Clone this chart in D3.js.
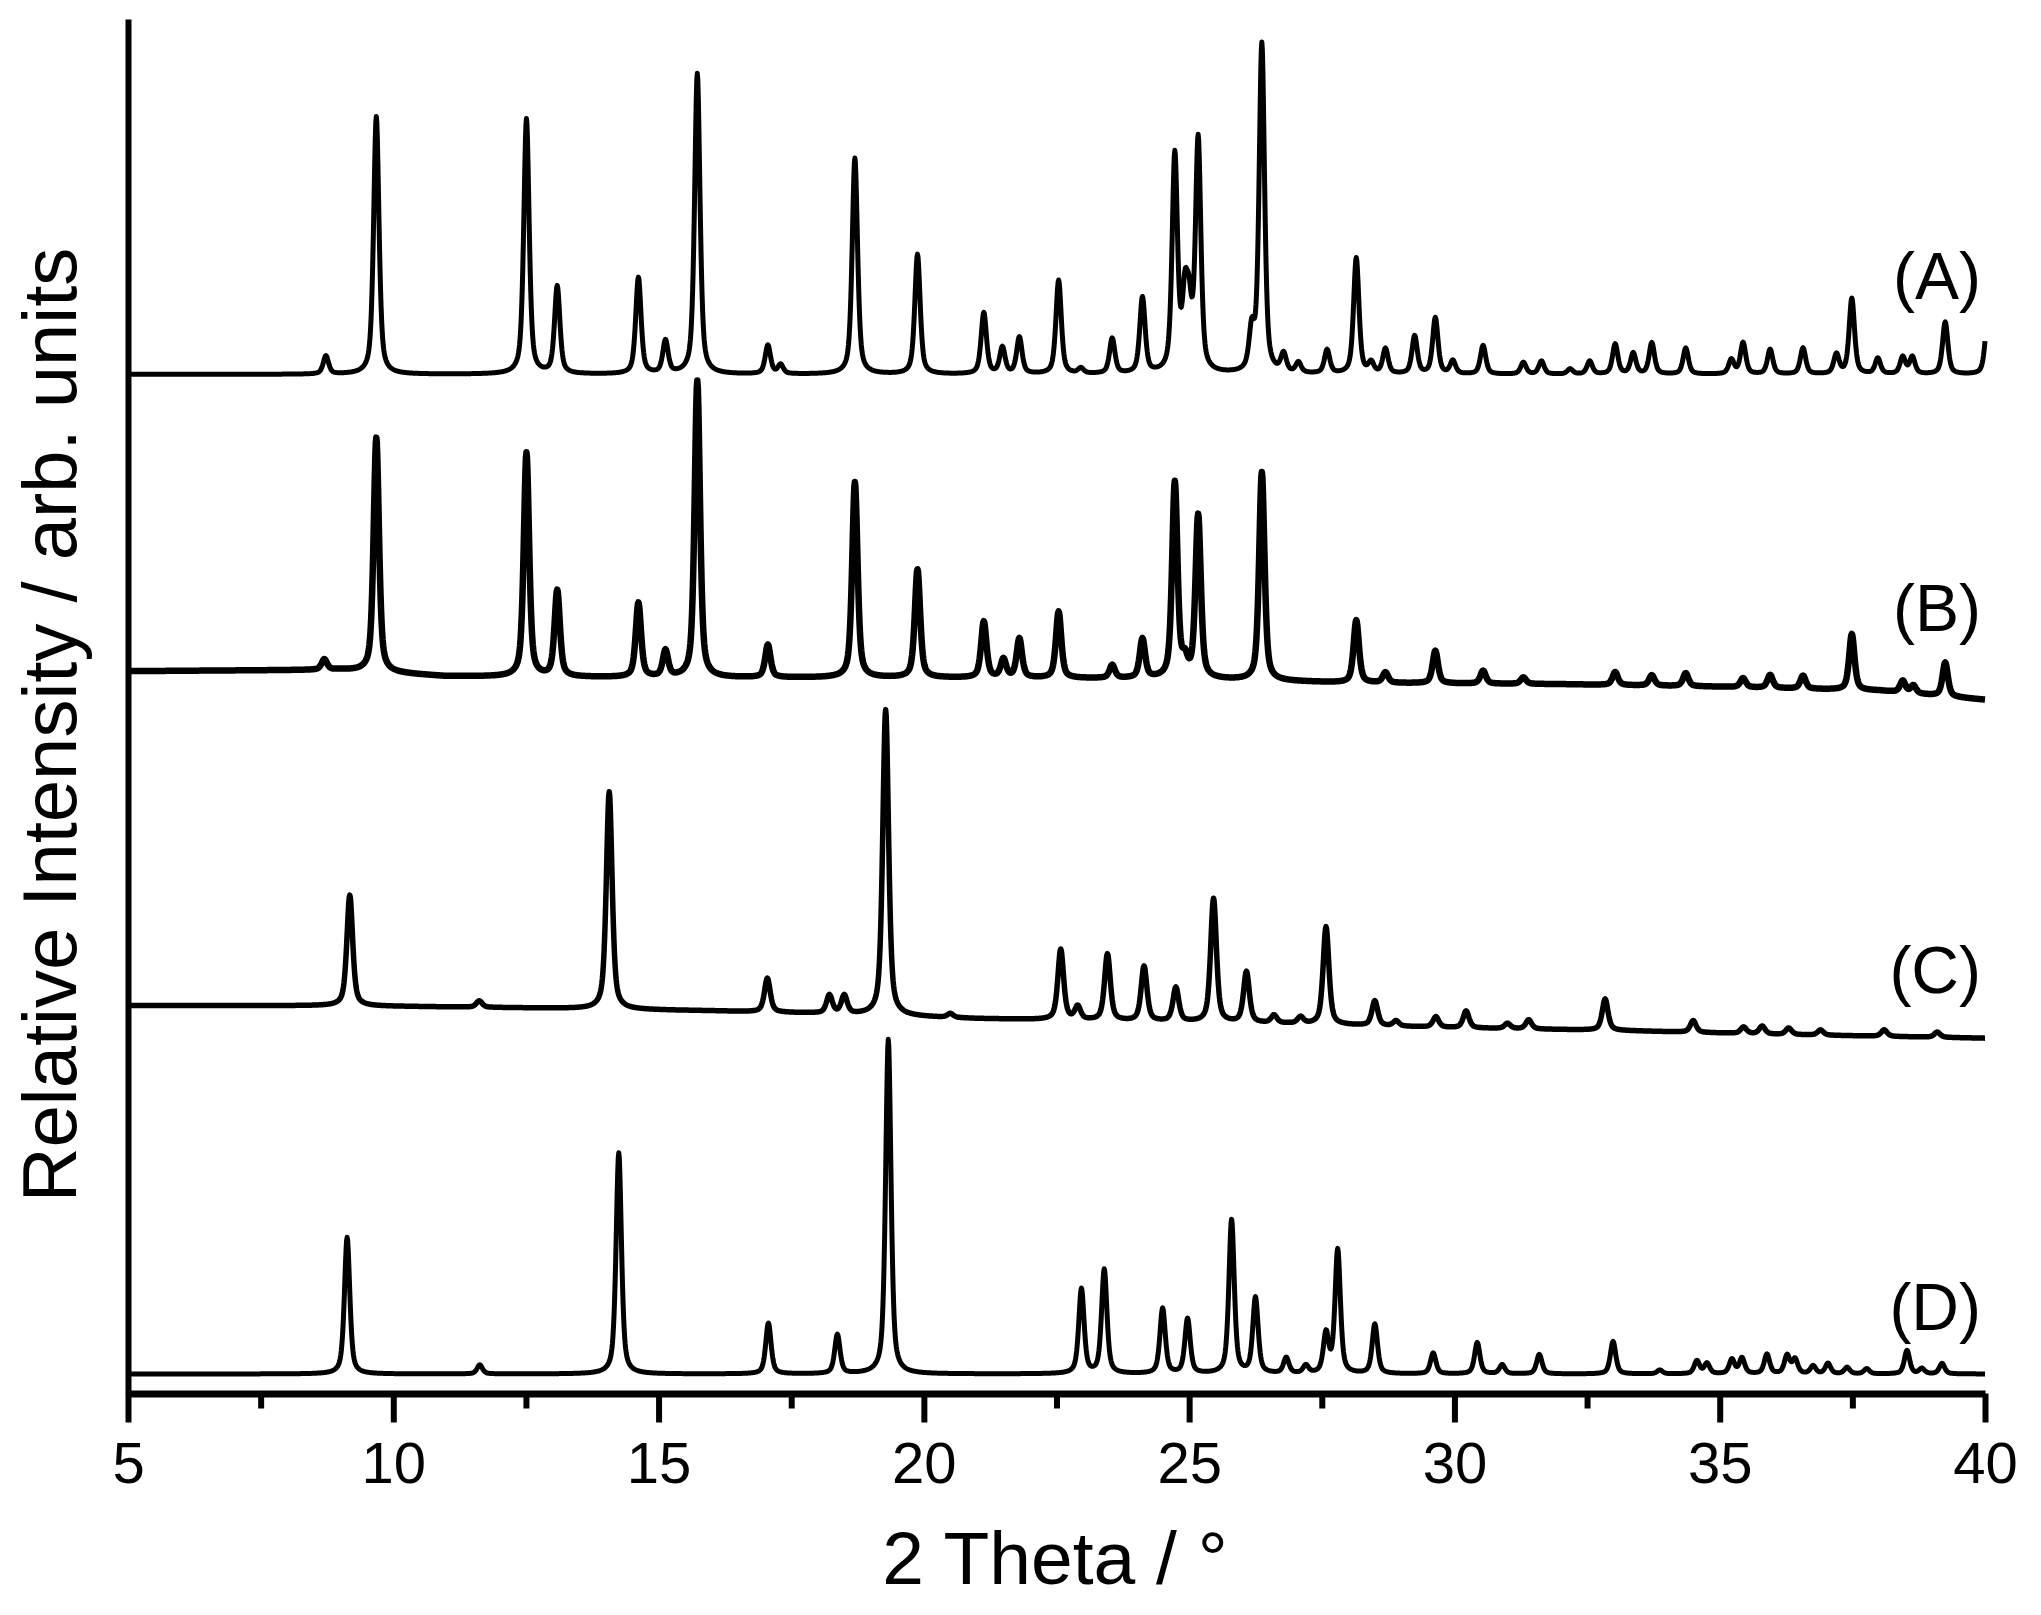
<!DOCTYPE html>
<html>
<head>
<meta charset="utf-8">
<script src="https://cdn.jsdelivr.net/npm/d3@7"></script>
<style>
  html, body { margin: 0; padding: 0; background: #ffffff; }
  svg { display: block; }
  text { font-family: "Liberation Sans", Arial, sans-serif; fill: #000; }
</style>
</head>
<body>
<svg id="chart" width="2041" height="1615"></svg>
<script>
// ---------------- data ----------------
// 2-theta range and tick labels
const xDomain = [5, 40];
const majorTicks = [5, 10, 15, 20, 25, 30, 35, 40];
const minorTicks = [7.5, 12.5, 17.5, 22.5, 27.5, 32.5, 37.5];
const seriesNames = ["(A)", "(B)", "(C)", "(D)"];
const xTitle = "2 Theta / \u00B0";
const yTitle = "Relative Intensity / arb. units";

// background level of each pattern: [2theta, intensity]
const baseA = [[5, 783], [40, 783]];
const baseB = [[5, 555], [9, 556], [11, 551], [15, 550], [20, 550], [25, 549], [28, 546], [32, 545], [35, 543], [38, 540], [40, 533]];
const baseC = [[5, 298], [9, 298], [11, 297], [13, 296], [16, 294], [18, 292], [21, 288], [24, 286], [27, 284], [30, 281], [33, 279], [36, 276], [40, 273]];
const baseD = [[5, 15], [40, 15]];

// reflections: [2theta, peak height above background]
const peaksA = [
  [8.73, 14], [9.68, 198], [12.51, 196], [13.09, 67], [14.62, 74], [15.13, 25], [15.73, 231],
  [17.06, 22], [17.30, 7], [18.70, 166], [19.88, 92], [21.13, 47], [21.48, 20], [21.80, 28],
  [22.54, 72], [22.96, 4], [23.55, 27], [24.12, 58], [24.73, 166], [24.92, 52], [25.00, 42], [25.17, 178],
  [26.18, 30], [26.37, 253], [26.78, 14], [27.06, 8], [27.60, 18], [28.15, 89], [28.43, 8], [28.70, 19],
  [29.25, 29], [29.64, 43], [29.97, 10], [30.54, 22], [31.30, 9], [31.64, 10], [32.18, 4], [32.55, 10],
  [33.03, 23], [33.37, 16], [33.72, 24], [34.36, 20], [35.22, 11], [35.44, 24], [35.95, 19],
  [36.57, 20], [37.20, 15], [37.49, 58], [37.98, 12], [38.45, 13], [38.63, 13], [39.25, 40], [40.05, 42]
];
const peaksB = [
  [8.70, 8], [9.68, 180], [12.51, 172], [13.09, 66], [14.62, 57], [15.13, 20], [15.73, 228],
  [17.06, 25], [18.70, 150], [19.88, 83], [21.13, 43], [21.50, 14], [21.80, 30], [22.54, 51],
  [23.55, 10], [24.12, 30], [24.73, 150], [24.92, 12], [25.17, 125], [26.37, 160], [28.15, 48],
  [28.70, 8], [29.64, 25], [30.54, 10], [31.30, 5], [33.03, 10], [33.72, 8], [34.36, 10],
  [35.44, 7], [35.95, 10], [36.57, 10], [37.49, 43], [38.45, 9], [38.65, 6], [39.25, 26]
];
const peaksC = [
  [9.18, 85], [11.62, 5], [14.07, 167], [17.05, 26], [18.22, 14], [18.50, 14], [19.28, 235],
  [20.50, 3], [22.58, 54], [22.90, 10], [23.46, 51], [24.15, 42], [24.75, 26], [25.46, 95],
  [26.08, 39], [26.60, 6], [27.10, 5], [27.58, 75], [28.50, 19], [28.90, 4], [29.65, 8], [30.22, 13],
  [31.00, 4], [31.40, 7], [32.84, 24], [34.50, 9], [35.45, 5], [35.80, 6], [36.30, 5], [36.90, 4],
  [38.10, 5], [39.10, 4]
];
const peaksD = [
  [9.13, 105], [11.63, 7], [14.25, 170], [17.07, 39], [18.37, 30], [19.33, 257],
  [22.97, 65], [23.40, 80], [24.50, 50], [24.97, 42], [25.80, 118], [26.25, 58], [26.83, 12],
  [27.20, 6], [27.58, 30], [27.80, 95], [28.50, 38], [29.60, 16], [30.43, 24], [30.90, 7],
  [31.60, 15], [32.99, 25], [33.87, 3], [34.57, 10], [34.76, 8], [35.23, 11], [35.42, 12],
  [35.89, 15], [36.27, 14], [36.42, 11], [36.76, 6], [37.04, 8], [37.40, 5], [37.77, 4],
  [38.53, 18], [38.81, 4], [39.19, 8]
];

// ---------------- drawing ----------------
const svg = d3.select("#chart");
const x = d3.scaleLinear().domain(xDomain).range([128, 1985]);
const y = d3.scaleLinear().domain([0, 1056]).range([1393.5, 19]);

const series = [
  { name: seriesNames[0], base: baseA, peaks: peaksA, fwhm: 0.12, stroke: 5.0, labelY: 299 },
  { name: seriesNames[1], base: baseB, peaks: peaksB, fwhm: 0.12, stroke: 6.5, labelY: 631 },
  { name: seriesNames[2], base: baseC, peaks: peaksC, fwhm: 0.13, stroke: 5.5, labelY: 993 },
  { name: seriesNames[3], base: baseD, peaks: peaksD, fwhm: 0.12, stroke: 5.0, labelY: 1330 }
];

const grid = d3.range(xDomain[0], xDomain[1] + 1e-9, 0.01);

function profile(s) {
  const bx = s.base.map(d => d[0]), by = s.base.map(d => d[1]);
  const bg = d3.scaleLinear().domain(bx).range(by);
  const eta = 0.55, w = s.fwhm;
  return grid.map(t => {
    let v = bg(t);
    for (const [p, h] of s.peaks) {
      const u = (t - p) / w;
      if (Math.abs(u) > 30) continue;
      v += h * (eta / (1 + 4 * u * u) + (1 - eta) * Math.exp(-4 * Math.LN2 * u * u));
    }
    return [t, v];
  });
}

const line = d3.line().x(d => x(d[0])).y(d => y(d[1]));

const gLines = svg.append("g");
series.forEach(s => {
  gLines.append("path")
    .datum(profile(s))
    .attr("d", line)
    .attr("fill", "none")
    .attr("stroke", "#000")
    .attr("stroke-width", s.stroke)
    .attr("stroke-linejoin", "round");
  svg.append("text")
    .attr("x", 1981)
    .attr("y", s.labelY)
    .attr("text-anchor", "end")
    .attr("font-size", 66)
    .text(s.name);
});

// x axis: major ticks with labels
const gx = svg.append("g").attr("transform", "translate(0,1393.5)");
gx.call(d3.axisBottom(x).tickValues(majorTicks).tickSize(29).tickSizeOuter(0).tickFormat(d3.format("d")));
gx.select(".domain").attr("stroke-width", 7).attr("stroke", "#000");
gx.selectAll(".tick line").attr("stroke-width", 6).attr("stroke", "#000");
gx.selectAll(".tick text")
  .attr("y", 89.5).attr("dy", 0)
  .attr("font-size", 58)
  .attr("font-family", "Liberation Sans, Arial, sans-serif")
  .attr("fill", "#000");

// minor ticks
const gxm = svg.append("g").attr("transform", "translate(0,1393.5)");
gxm.call(d3.axisBottom(x).tickValues(minorTicks).tickSize(15).tickSizeOuter(0).tickFormat(""));
gxm.select(".domain").remove();
gxm.selectAll(".tick line").attr("stroke-width", 6).attr("stroke", "#000");

// y axis line (no ticks)
const gy = svg.append("g").attr("transform", "translate(128,0)");
gy.call(d3.axisLeft(y).tickValues([]).tickSizeOuter(0));
gy.select(".domain").attr("stroke-width", 6).attr("stroke", "#000");

// titles
svg.append("text")
  .attr("x", 1055).attr("y", 1584)
  .attr("text-anchor", "middle")
  .attr("font-size", 75)
  .text(xTitle);

svg.append("text")
  .attr("transform", "translate(76,725) rotate(-90)")
  .attr("text-anchor", "middle")
  .attr("font-size", 76)
  .text(yTitle);
</script>
</body>
</html>
